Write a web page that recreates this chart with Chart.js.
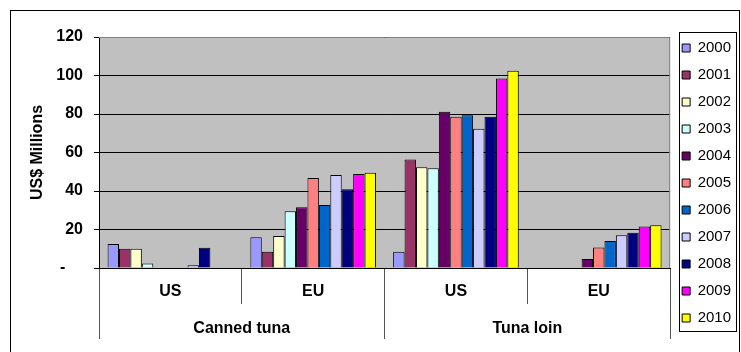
<!DOCTYPE html>
<html>
<head>
<meta charset="utf-8">
<script src="https://cdn.jsdelivr.net/npm/chart.js@4.4.1/dist/chart.umd.min.js"></script>
<style>
    html, body { margin: 0; padding: 0; background: #fff; }
    canvas { display: block; }
</style>
</head>
<body>
<canvas id="chart" width="741" height="352"></canvas>
<script>
const CATEGORIES = ["US", "EU", "US", "EU"];
const GROUPS = ["Canned tuna", "Tuna loin"];
const YEARS = ["2000", "2001", "2002", "2003", "2004", "2005", "2006", "2007", "2008", "2009", "2010"];
const Y_TICK_LABELS = ["-\u2007\u2007", "20", "40", "60", "80", "100", "120"];

// one array per year: [canned US, canned EU, loin US, loin EU]
const V2000 = [12.5, 16, 8.5, 0];
const V2001 = [10, 8.5, 56.3, 0];
const V2002 = [10, 16.6, 52.3, 0];
const V2003 = [2.4, 29.5, 51.8, 0];
const V2004 = [0, 31.5, 81.2, 4.7];
const V2005 = [0, 46.8, 78.6, 10.7];
const V2006 = [0, 32.7, 79.3, 14];
const V2007 = [1.4, 48.3, 72.4, 17];
const V2008 = [10.5, 40.9, 78.6, 18.3];
const V2009 = [0, 48.8, 98.5, 21.5];
const V2010 = [0, 49.5, 102.5, 22.2];
const SERIES = [V2000, V2001, V2002, V2003, V2004, V2005, V2006, V2007, V2008, V2009, V2010];

const COLORS = ["#9999FF", "#993366", "#FFFFCC", "#CCFFFF", "#660066", "#FF8080",
    "#0066CC", "#CCCCFF", "#000080", "#FF00FF", "#FFFF00"];

Chart.defaults.font.family = 'Arial, "Liberation Sans", sans-serif';
Chart.defaults.color = "#000";

// plot background, borders, category separators, legend frame
const decorations = {
    id: "decorations",
    beforeDraw(chart) {
        const {ctx, chartArea: a} = chart;
        ctx.save();
        ctx.fillStyle = "#C0C0C0";
        ctx.fillRect(a.left, a.top, a.right - a.left, a.bottom - a.top);
        ctx.restore();
    },
    afterDraw(chart) {
        const {ctx, chartArea: a} = chart;
        ctx.save();
        ctx.lineWidth = 1;

        ctx.strokeStyle = "#808080";
        ctx.beginPath();
        ctx.moveTo(a.left, a.top + 0.5);
        ctx.lineTo(a.right - 0.5, a.top + 0.5);
        ctx.lineTo(a.right - 0.5, a.bottom);
        ctx.stroke();

        const lg = chart.legend.legendHitBoxes;
        if (lg && lg.length) {
            const first = lg[0];
            const last = lg[lg.length - 1];
            const x0 = Math.round(first.left) - 2.5;
            const y0 = Math.round(first.top) - 8.5;
            const y1 = Math.round(last.top + last.height) + 5.5;
            ctx.strokeStyle = "#000";
            ctx.strokeRect(x0, y0, 57, y1 - y0);
        }

        ctx.strokeStyle = "#000";
        ctx.strokeRect(10.5, 10.5, 729, 400);
        ctx.restore();
    }
};

new Chart(document.getElementById("chart"), {
    type: "bar",
    data: {
        labels: CATEGORIES,
        datasets: YEARS.map((year, i) => ({
            label: year,
            data: SERIES[i],
            backgroundColor: COLORS[i],
            borderColor: "#000",
            borderWidth: 1,
            categoryPercentage: 0.88,
            barPercentage: 1.0
        }))
    },
    options: {
        responsive: false,
        animation: false,
        devicePixelRatio: 1,
        layout: {
            padding: {left: 12, top: 28.5, right: 0, bottom: 0}
        },
        plugins: {
            tooltip: {enabled: false},
            title: {
                display: true,
                text: "",
                fullSize: false,
                padding: 0,
                font: {size: 8.5, lineHeight: 1}
            },
            legend: {
                position: "right",
                align: "start",
                labels: {
                    boxWidth: 8,
                    boxHeight: 8,
                    padding: 12,
                    color: "#000",
                    font: {size: 15}
                }
            }
        },
        scales: {
            y: {
                min: 0,
                max: 120,
                afterFit: (scale) => { scale.width = 87; },
                ticks: {
                    stepSize: 20,
                    padding: 11,
                    font: {size: 16, weight: "bold"},
                    callback: (value) => Y_TICK_LABELS[value / 20]
                },
                grid: {color: "#000", tickLength: 5},
                border: {color: "#000"},
                title: {
                    display: true,
                    text: "US$ Millions",
                    padding: {top: 16, bottom: 0},
                    font: {size: 16, weight: "bold"}
                }
            },
            x: {
                position: "bottom",
                offset: true,
                afterFit: (scale) => { scale.height = 36; },
                grid: {
                    offset: true,
                    drawOnChartArea: false,
                    tickLength: 36,
                    color: "#555"
                },
                border: {color: "#000"},
                ticks: {
                    padding: -21.6,
                    maxRotation: 0,
                    font: {size: 16, weight: "bold"}
                }
            },
            x2: {
                type: "category",
                position: "bottom",
                labels: GROUPS,
                offset: true,
                afterFit: (scale) => { scale.height = 48; },
                grid: {
                    offset: true,
                    drawOnChartArea: false,
                    tickLength: 35,
                    color: "#555"
                },
                border: {display: false},
                ticks: {
                    padding: -20,
                    maxRotation: 0,
                    font: {size: 16, weight: "bold"}
                }
            }
        }
    },
    plugins: [decorations]
});
</script>
</body>
</html>
